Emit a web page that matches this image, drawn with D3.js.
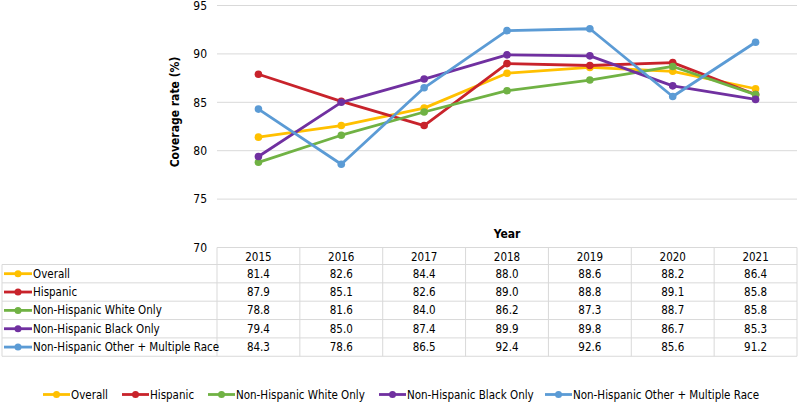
<!DOCTYPE html>
<html>
<head>
<meta charset="utf-8">
<script src="https://d3js.org/d3.v7.min.js"></script>
<style>
  body { margin: 0; background: #fff; }
  svg { display: block; }
  text { font-family: "DejaVu Sans Condensed", "DejaVu Sans", Verdana, sans-serif; font-stretch: condensed; fill: #000; }
</style>
</head>
<body>
<div class="chart"></div>
<script>
// chart data
const years = ['2015', '2016', '2017', '2018', '2019', '2020', '2021'];
const seriesNames = ['Overall', 'Hispanic', 'Non-Hispanic White Only', 'Non-Hispanic Black Only', 'Non-Hispanic Other + Multiple Race'];
const overall = [81.4, 82.6, 84.4, 88.0, 88.6, 88.2, 86.4];
const hispanic = [87.9, 85.1, 82.6, 89.0, 88.8, 89.1, 85.8];
const white = [78.8, 81.6, 84.0, 86.2, 87.3, 88.7, 85.8];
const black = [79.4, 85.0, 87.4, 89.9, 89.8, 86.7, 85.3];
const other = [84.3, 78.6, 86.5, 92.4, 92.6, 85.6, 91.2];
const yTicks = [70, 75, 80, 85, 90, 95];
const colors = ['#FFC000', '#C8232B', '#70B244', '#7030A0', '#5B9BD5'];

const allValues = [overall, hispanic, white, black, other];
const series = seriesNames.map((name, i) => ({ name: name, values: allValues[i], color: colors[i] }));

const width = 800, height = 403;
const plotLeft = 217, plotRight = 797, plotTop = 5.5, plotBottom = 247.5;
const rowH = 18.35, headerH = 17;
const tableLeft = 2;
const gridColor = '#d9d9d9';

const svg = d3.select('.chart').append('svg')
  .attr('width', width).attr('height', height);

const x = d3.scaleBand().domain(years).range([plotLeft, plotRight]);
const y = d3.scaleLinear().domain([70, 95]).range([plotBottom, plotTop]);

// gridlines
svg.append('g').selectAll('line')
  .data(yTicks.slice(1))
  .enter().append('line')
  .attr('x1', plotLeft).attr('x2', plotRight)
  .attr('y1', d => y(d)).attr('y2', d => y(d))
  .attr('stroke', gridColor).attr('stroke-width', 1);

// y axis labels
svg.append('g').selectAll('text')
  .data(yTicks)
  .enter().append('text')
  .attr('x', 207).attr('y', d => y(d))
  .attr('dy', '0.35em')
  .attr('text-anchor', 'end')
  .style('font-size', '12px')
  .text(d => d);

svg.append('text')
  .attr('transform', 'translate(175,' + 112 + ') rotate(-90)')
  .attr('text-anchor', 'middle')
  .attr('dy', '0.35em')
  .style('font-size', '12px').style('font-weight', 'bold')
  .text('Coverage rate (%)');

svg.append('text')
  .attr('x', (plotLeft + plotRight) / 2).attr('y', 238)
  .attr('text-anchor', 'middle')
  .style('font-size', '12px').style('font-weight', 'bold')
  .text('Year');

// lines and points
const line = d3.line()
  .x((d, i) => x(years[i]) + x.bandwidth() / 2)
  .y(d => y(d));

const lines = svg.append('g');
series.forEach(s => {
  lines.append('path')
    .datum(s.values)
    .attr('fill', 'none')
    .attr('stroke', s.color)
    .attr('stroke-width', 2.8)
    .attr('stroke-linejoin', 'round')
    .attr('d', line);
  lines.selectAll(null)
    .data(s.values)
    .enter().append('circle')
    .attr('cx', (d, i) => x(years[i]) + x.bandwidth() / 2)
    .attr('cy', d => y(d))
    .attr('r', 3.8)
    .attr('fill', s.color);
});

// data table
const table = svg.append('g');
const tableTop = plotBottom;
const headerBottom = tableTop + headerH;
const tableBottom = headerBottom + rowH * series.length;

// horizontal lines
const hLines = [tableTop].concat(series.map((s, i) => headerBottom + rowH * i)).concat([tableBottom]);
table.selectAll('line.h')
  .data(hLines)
  .enter().append('line')
  .attr('x1', (d, i) => i === 0 ? plotLeft : tableLeft)
  .attr('x2', plotRight)
  .attr('y1', d => d).attr('y2', d => d)
  .attr('stroke', gridColor);

// vertical lines
const vLines = years.map(yr => x(yr)).concat([plotRight]);
table.selectAll('line.v')
  .data(vLines)
  .enter().append('line')
  .attr('x1', d => d).attr('x2', d => d)
  .attr('y1', tableTop).attr('y2', tableBottom)
  .attr('stroke', gridColor);
table.append('line')
  .attr('x1', tableLeft).attr('x2', tableLeft)
  .attr('y1', headerBottom).attr('y2', tableBottom)
  .attr('stroke', gridColor);

// header
table.selectAll('text.yr')
  .data(years)
  .enter().append('text')
  .attr('x', d => x(d) + x.bandwidth() / 2)
  .attr('y', tableTop + headerH / 2 + 1)
  .attr('dy', '0.35em')
  .attr('text-anchor', 'middle')
  .style('font-size', '11.5px')
  .text(d => d);

series.forEach((s, si) => {
  const cy = headerBottom + rowH * si + rowH / 2;
  table.append('line')
    .attr('x1', 4).attr('x2', 32).attr('y1', cy).attr('y2', cy)
    .attr('stroke', s.color).attr('stroke-width', 2.8);
  table.append('circle')
    .attr('cx', 18).attr('cy', cy).attr('r', 3.5).attr('fill', s.color);
  table.append('text')
    .attr('x', 33).attr('y', cy).attr('dy', '0.35em')
    .style('font-size', '11.5px')
    .text(s.name);
  table.selectAll(null)
    .data(s.values)
    .enter().append('text')
    .attr('x', (d, i) => x(years[i]) + x.bandwidth() / 2)
    .attr('y', cy).attr('dy', '0.35em')
    .attr('text-anchor', 'middle')
    .style('font-size', '11.5px')
    .text(d => d.toFixed(1));
});

// legend
const legendX = [43, 122, 208, 379, 545];
const legendY = 394.5;
const legend = svg.append('g');
series.forEach((s, i) => {
  const lx = legendX[i];
  legend.append('line')
    .attr('x1', lx).attr('x2', lx + 27).attr('y1', legendY).attr('y2', legendY)
    .attr('stroke', s.color).attr('stroke-width', 2.8);
  legend.append('circle')
    .attr('cx', lx + 13.5).attr('cy', legendY).attr('r', 3.5).attr('fill', s.color);
  legend.append('text')
    .attr('x', lx + 28).attr('y', legendY).attr('dy', '0.35em')
    .style('font-size', '11.5px')
    .text(s.name);
});
</script>
</body>
</html>
